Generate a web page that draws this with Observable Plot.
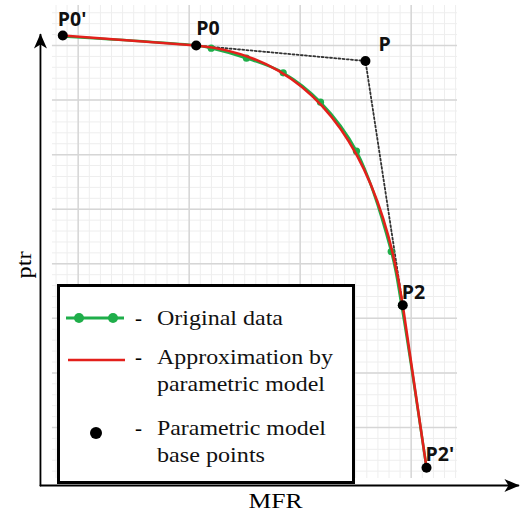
<!DOCTYPE html>
<html>
<head>
<meta charset="utf-8">
<script src="https://cdn.jsdelivr.net/npm/d3@7"></script>
<script src="https://cdn.jsdelivr.net/npm/@observablehq/plot@0.6"></script>
<style>
  html, body { margin: 0; padding: 0; background: #fff; }
  #wrap { position: relative; width: 520px; height: 516px; overflow: hidden; }
  #legend { position: absolute; left: 57px; top: 284px; }
</style>
</head>
<body>
<div id="wrap"><div id="chart"></div></div>
<script>
// ---- data ----
// original data (green)
const origMFR = [0.861, 2.063, 2.198, 2.516, 2.847, 3.183, 3.507, 3.820, 3.913, 4.138];
const origPtr = [8.165, 8.0, 7.951, 7.767, 7.500, 6.961, 6.063, 4.225, 3.241, 0.261];
// parametric model base points (black)
const baseNames = ["P0'", "P0", "P", "P2", "P2'"];
const baseMFR = [0.861, 2.063, 3.588, 3.924, 4.138];
const basePtr = [8.183, 8.0, 7.716, 3.241, 0.261];
// grid ticks
const majorX = [1, 2, 3, 4];
const majorY = [1, 2, 3, 4, 5, 6, 7, 8];
const minorX = d3.range(8, 45).map(d => d / 10);
const minorY = d3.range(1, 44).map(d => d / 5);
const gridX = [0.768, 4.417];
const gridY = [0.065, 8.733];
// axes (origin and arrow tips)
const axisX0 = 0.66, axisY0 = -0.063, axisXTip = 4.966, axisYTip = 8.2;
// legend
const legendLabels = [["Original data"], ["Approximation by", "parametric model"], ["Parametric model", "base points"]];

const orig = origMFR.map((x, i) => ({x, y: origPtr[i]}));
const base = baseMFR.map((x, i) => ({name: baseNames[i], x, y: basePtr[i]}));
const axes = [
  {axis: "x", x: axisX0, y: axisY0}, {axis: "x", x: axisXTip, y: axisY0},
  {axis: "y", x: axisX0, y: axisY0}, {axis: "y", x: axisX0, y: axisYTip}
];

const GREEN = "#1fae4a", RED = "#e3201b";

// straight line P0'–P0, quadratic Bézier P0–(P)–P2, straight line P2–P2'
function modelCurve(context) {
  let pts = [];
  return {
    areaStart() {}, areaEnd() {},
    lineStart() { pts = []; },
    point(x, y) { pts.push([+x, +y]); },
    lineEnd() {
      const [a, b, c, d, e] = pts;
      context.moveTo(a[0], a[1]);
      context.lineTo(b[0], b[1]);
      context.quadraticCurveTo(c[0], c[1], d[0], d[1]);
      context.lineTo(e[0], e[1]);
    }
  };
}

function arrowHead(color, context) {
  const doc = (context && context.document) || document;
  const ns = "http://www.w3.org/2000/svg";
  const m = doc.createElementNS(ns, "marker");
  m.setAttribute("viewBox", "-15 -7 16 14");
  m.setAttribute("markerWidth", "16");
  m.setAttribute("markerHeight", "14");
  m.setAttribute("markerUnits", "userSpaceOnUse");
  m.setAttribute("orient", "auto");
  m.setAttribute("refX", "0");
  m.setAttribute("refY", "0");
  const p = doc.createElementNS(ns, "path");
  p.setAttribute("d", "M1,0L-14,-6.5L-10,0L-14,6.5Z");
  p.setAttribute("fill", "#000");
  p.setAttribute("stroke", "none");
  m.appendChild(p);
  return m;
}

const labelOffsets = {"P0'": [-5, -10], "P0": [0, -11], "P": [13, -10], "P2": [-1, -6], "P2'": [-1, -7]};

function build(marker) {
  return Plot.plot({
    width: 520, height: 516, margin: 0,
    style: {background: "#fff", fontFamily: "Liberation Serif, serif"},
    x: {domain: [1, 4], range: [77.7, 410.7], axis: null},
    y: {domain: [1, 8], range: [427, 45], axis: null},
    marks: [
      Plot.ruleX(minorX, {y1: gridY[0], y2: gridY[1], stroke: "#eeeeee", strokeWidth: 1}),
      Plot.ruleY(minorY, {x1: gridX[0], x2: gridX[1], stroke: "#eeeeee", strokeWidth: 1}),
      Plot.ruleX(majorX, {y1: gridY[0], y2: gridY[1], stroke: "#d6d6d6", strokeWidth: 1.5}),
      Plot.ruleY(majorY, {x1: gridX[0], x2: gridX[1], stroke: "#d6d6d6", strokeWidth: 1.5}),
      Plot.line(axes, {x: "x", y: "y", z: "axis", stroke: "#000", strokeWidth: 1.8, markerEnd: marker}),
      Plot.line(base.slice(1, 4), {x: "x", y: "y", stroke: "#333", strokeWidth: 1.8, strokeDasharray: "2,2.2"}),
      Plot.line(orig, {x: "x", y: "y", stroke: GREEN, strokeWidth: 2.6, curve: "catmull-rom"}),
      Plot.dot(orig, {x: "x", y: "y", r: 3.6, fill: GREEN}),
      Plot.line(base, {x: "x", y: "y", stroke: RED, strokeWidth: 2.6, curve: modelCurve}),
      Plot.dot(base, {x: "x", y: "y", r: 5, fill: "#000"}),
      ...base.map(d => Plot.text([d], {
        x: "x", y: "y", text: "name", textAnchor: "start", lineAnchor: "bottom",
        dx: labelOffsets[d.name][0], dy: labelOffsets[d.name][1],
        fontFamily: "Open Sans, sans-serif", fontWeight: 700, fontSize: 19.5, fill: "#111"
      })),
      Plot.text(["MFR"], {frameAnchor: "bottom", lineAnchor: "bottom", dx: 15, dy: -9,
        fontFamily: "Liberation Serif, serif", fontSize: 20, fill: "#000"}),
      Plot.text(["ptr"], {frameAnchor: "left", lineAnchor: "bottom", rotate: -90, dx: 30, dy: 20,
        fontFamily: "Liberation Serif, serif", fontSize: 21, fill: "#000"})
    ]
  });
}

let chart;
try { chart = build(arrowHead); } catch (e) { chart = build("arrow"); }
document.getElementById("chart").appendChild(chart);

const svgSel = d3.select(chart);
svgSel.selectAll("text").filter(function() { return this.textContent === "MFR"; })
  .attr("textLength", 54).attr("lengthAdjust", "spacingAndGlyphs");
svgSel.selectAll("text").filter(function() { return this.textContent === "ptr"; })
  .attr("textLength", 27).attr("lengthAdjust", "spacingAndGlyphs");

// ---- legend (drawn over the plot area) ----
const lg = d3.select("#wrap").append("svg").attr("id", "legend")
  .attr("width", 299).attr("height", 202);
lg.append("rect").attr("x", 1.5).attr("y", 1.5).attr("width", 295).attr("height", 197)
  .attr("fill", "#fff").attr("stroke", "#000").attr("stroke-width", 3);
// swatches
lg.append("line").attr("x1", 9).attr("x2", 67).attr("y1", 34).attr("y2", 34)
  .attr("stroke", GREEN).attr("stroke-width", 3);
[22, 56].forEach(cx => lg.append("circle").attr("cx", cx).attr("cy", 34).attr("r", 5).attr("fill", GREEN));
lg.append("line").attr("x1", 11).attr("x2", 68).attr("y1", 76).attr("y2", 76)
  .attr("stroke", RED).attr("stroke-width", 2.6);
lg.append("circle").attr("cx", 39).attr("cy", 149).attr("r", 6).attr("fill", "#000");
// texts
const lineBase = [[41], [80, 107], [151, 178]];
const lineWidths = [[126], [176, 168], [169, 108]];
legendLabels.forEach((lines, i) => {
  lg.append("text").attr("x", 78).attr("y", lineBase[i][0]).text("-")
    .attr("font-family", "Liberation Serif, serif").attr("font-size", 21);
  lines.forEach((t, j) => {
    lg.append("text").attr("x", 100).attr("y", lineBase[i][j]).text(t)
      .attr("font-family", "Liberation Serif, serif").attr("font-size", 21).attr("fill", "#111")
      .attr("textLength", lineWidths[i][j]).attr("lengthAdjust", "spacingAndGlyphs");
  });
});
</script>
</body>
</html>
